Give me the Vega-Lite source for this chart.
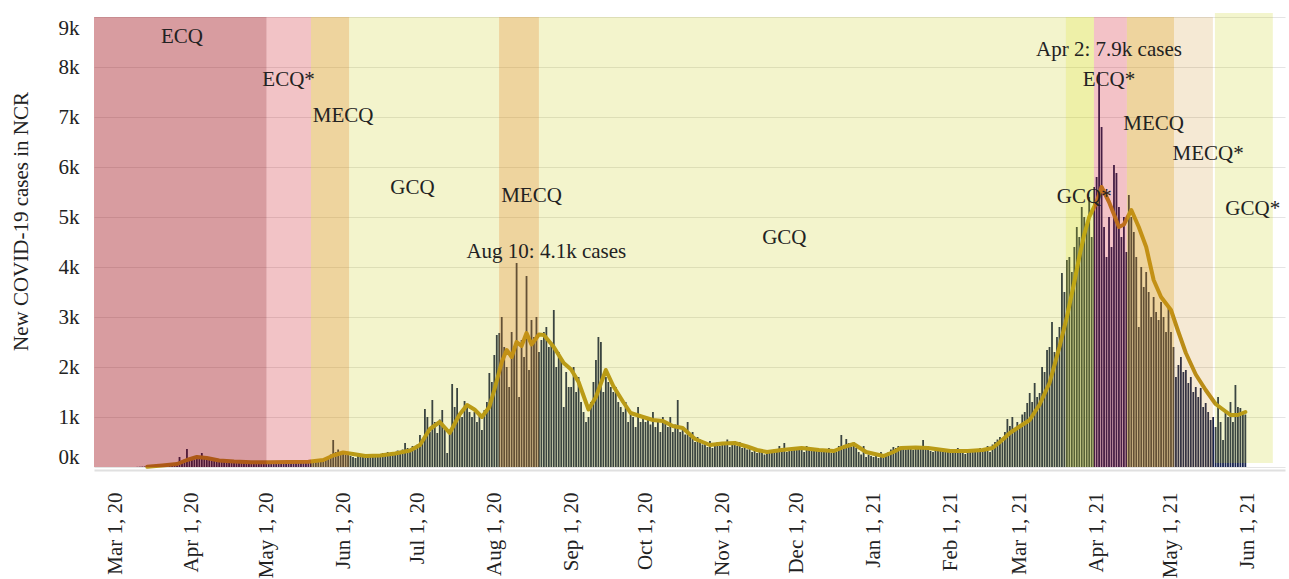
{
  "$schema": "https://vega.github.io/schema/vega-lite/v6.json",
  "width": 1191,
  "height": 450,
  "autosize": {"type": "none"},
  "padding": {"left": 94, "top": 17, "right": 4, "bottom": 112},
  "background": "white",
  "config": {"font": "Liberation Serif", "view": {"stroke": null}},
  "datasets": {
    "daily": [
      {"date":"2020-03-10","cases":3},{"date":"2020-03-11","cases":5},{"date":"2020-03-12","cases":8},{"date":"2020-03-13","cases":10},{"date":"2020-03-14","cases":12},{"date":"2020-03-15","cases":15},{"date":"2020-03-16","cases":20},{"date":"2020-03-17","cases":25},{"date":"2020-03-18","cases":30},{"date":"2020-03-19","cases":35},{"date":"2020-03-20","cases":40},{"date":"2020-03-21","cases":45},{"date":"2020-03-22","cases":50},{"date":"2020-03-23","cases":55},{"date":"2020-03-24","cases":60},{"date":"2020-03-25","cases":70},{"date":"2020-03-26","cases":80},{"date":"2020-03-27","cases":200},{"date":"2020-03-28","cases":90},{"date":"2020-03-29","cases":150},{"date":"2020-03-30","cases":360},{"date":"2020-03-31","cases":160},
      {"date":"2020-04-01","cases":180},{"date":"2020-04-02","cases":150},{"date":"2020-04-03","cases":230},{"date":"2020-04-04","cases":200},{"date":"2020-04-05","cases":280},{"date":"2020-04-06","cases":180},{"date":"2020-04-07","cases":140},{"date":"2020-04-08","cases":150},{"date":"2020-04-09","cases":120},{"date":"2020-04-10","cases":140},{"date":"2020-04-11","cases":110},{"date":"2020-04-12","cases":130},{"date":"2020-04-13","cases":110},{"date":"2020-04-14","cases":100},{"date":"2020-04-15","cases":130},{"date":"2020-04-16","cases":90},{"date":"2020-04-17","cases":110},{"date":"2020-04-18","cases":100},{"date":"2020-04-19","cases":120},{"date":"2020-04-20","cases":80},{"date":"2020-04-21","cases":100},{"date":"2020-04-22","cases":90},{"date":"2020-04-23","cases":110},{"date":"2020-04-24","cases":80},{"date":"2020-04-25","cases":90},{"date":"2020-04-26","cases":70},{"date":"2020-04-27","cases":100},{"date":"2020-04-28","cases":80},{"date":"2020-04-29","cases":90},{"date":"2020-04-30","cases":120},
      {"date":"2020-05-01","cases":90},{"date":"2020-05-02","cases":100},{"date":"2020-05-03","cases":80},{"date":"2020-05-04","cases":110},{"date":"2020-05-05","cases":90},{"date":"2020-05-06","cases":100},{"date":"2020-05-07","cases":80},{"date":"2020-05-08","cases":120},{"date":"2020-05-09","cases":90},{"date":"2020-05-10","cases":100},{"date":"2020-05-11","cases":80},{"date":"2020-05-12","cases":110},{"date":"2020-05-13","cases":100},{"date":"2020-05-14","cases":90},{"date":"2020-05-15","cases":110},{"date":"2020-05-16","cases":80},{"date":"2020-05-17","cases":100},{"date":"2020-05-18","cases":120},{"date":"2020-05-19","cases":90},{"date":"2020-05-20","cases":110},{"date":"2020-05-21","cases":100},{"date":"2020-05-22","cases":130},{"date":"2020-05-23","cases":120},{"date":"2020-05-24","cases":150},{"date":"2020-05-25","cases":180},{"date":"2020-05-26","cases":200},{"date":"2020-05-27","cases":250},{"date":"2020-05-28","cases":540},{"date":"2020-05-29","cases":300},{"date":"2020-05-30","cases":350},{"date":"2020-05-31","cases":280},
      {"date":"2020-06-01","cases":300},{"date":"2020-06-02","cases":250},{"date":"2020-06-03","cases":280},{"date":"2020-06-04","cases":220},{"date":"2020-06-05","cases":200},{"date":"2020-06-06","cases":180},{"date":"2020-06-07","cases":230},{"date":"2020-06-08","cases":200},{"date":"2020-06-09","cases":220},{"date":"2020-06-10","cases":240},{"date":"2020-06-11","cases":210},{"date":"2020-06-12","cases":250},{"date":"2020-06-13","cases":230},{"date":"2020-06-14","cases":200},{"date":"2020-06-15","cases":260},{"date":"2020-06-16","cases":240},{"date":"2020-06-17","cases":280},{"date":"2020-06-18","cases":250},{"date":"2020-06-19","cases":300},{"date":"2020-06-20","cases":270},{"date":"2020-06-21","cases":240},{"date":"2020-06-22","cases":300},{"date":"2020-06-23","cases":330},{"date":"2020-06-24","cases":280},{"date":"2020-06-25","cases":350},{"date":"2020-06-26","cases":480},{"date":"2020-06-27","cases":380},{"date":"2020-06-28","cases":300},{"date":"2020-06-29","cases":420},{"date":"2020-06-30","cases":350},
      {"date":"2020-07-01","cases":450},{"date":"2020-07-02","cases":640},{"date":"2020-07-03","cases":550},{"date":"2020-07-04","cases":1160},{"date":"2020-07-05","cases":1000},{"date":"2020-07-06","cases":700},{"date":"2020-07-07","cases":1340},{"date":"2020-07-08","cases":900},{"date":"2020-07-09","cases":680},{"date":"2020-07-10","cases":950},{"date":"2020-07-11","cases":1140},{"date":"2020-07-12","cases":800},{"date":"2020-07-13","cases":280},{"date":"2020-07-14","cases":700},{"date":"2020-07-15","cases":1660},{"date":"2020-07-16","cases":1200},{"date":"2020-07-17","cases":1580},{"date":"2020-07-18","cases":1080},{"date":"2020-07-19","cases":1000},{"date":"2020-07-20","cases":1320},{"date":"2020-07-21","cases":1200},{"date":"2020-07-22","cases":1100},{"date":"2020-07-23","cases":1000},{"date":"2020-07-24","cases":1100},{"date":"2020-07-25","cases":900},{"date":"2020-07-26","cases":1080},{"date":"2020-07-27","cases":740},{"date":"2020-07-28","cases":1140},{"date":"2020-07-29","cases":1300},{"date":"2020-07-30","cases":1880},{"date":"2020-07-31","cases":1700},
      {"date":"2020-08-01","cases":2240},{"date":"2020-08-02","cases":2640},{"date":"2020-08-03","cases":2680},{"date":"2020-08-04","cases":3000},{"date":"2020-08-05","cases":2400},{"date":"2020-08-06","cases":2000},{"date":"2020-08-07","cases":1600},{"date":"2020-08-08","cases":2700},{"date":"2020-08-09","cases":2300},{"date":"2020-08-10","cases":4080},{"date":"2020-08-11","cases":1400},{"date":"2020-08-12","cases":2540},{"date":"2020-08-13","cases":2200},{"date":"2020-08-14","cases":3820},{"date":"2020-08-15","cases":1940},{"date":"2020-08-16","cases":2940},{"date":"2020-08-17","cases":2600},{"date":"2020-08-18","cases":3000},{"date":"2020-08-19","cases":2300},{"date":"2020-08-20","cases":2540},{"date":"2020-08-21","cases":2700},{"date":"2020-08-22","cases":2800},{"date":"2020-08-23","cases":2400},{"date":"2020-08-24","cases":2500},{"date":"2020-08-25","cases":3140},{"date":"2020-08-26","cases":2000},{"date":"2020-08-27","cases":2300},{"date":"2020-08-28","cases":2140},{"date":"2020-08-29","cases":1200},{"date":"2020-08-30","cases":1900},{"date":"2020-08-31","cases":1600},
      {"date":"2020-09-01","cases":1600},{"date":"2020-09-02","cases":2000},{"date":"2020-09-03","cases":1500},{"date":"2020-09-04","cases":1800},{"date":"2020-09-05","cases":1300},{"date":"2020-09-06","cases":1100},{"date":"2020-09-07","cases":900},{"date":"2020-09-08","cases":1000},{"date":"2020-09-09","cases":1300},{"date":"2020-09-10","cases":1700},{"date":"2020-09-11","cases":2140},{"date":"2020-09-12","cases":2600},{"date":"2020-09-13","cases":2500},{"date":"2020-09-14","cases":1500},{"date":"2020-09-15","cases":1800},{"date":"2020-09-16","cases":1700},{"date":"2020-09-17","cases":1600},{"date":"2020-09-18","cases":1500},{"date":"2020-09-19","cases":1600},{"date":"2020-09-20","cases":1300},{"date":"2020-09-21","cases":1200},{"date":"2020-09-22","cases":1100},{"date":"2020-09-23","cases":1300},{"date":"2020-09-24","cases":900},{"date":"2020-09-25","cases":1100},{"date":"2020-09-26","cases":1000},{"date":"2020-09-27","cases":800},{"date":"2020-09-28","cases":1200},{"date":"2020-09-29","cases":900},{"date":"2020-09-30","cases":1000},
      {"date":"2020-10-01","cases":900},{"date":"2020-10-02","cases":1000},{"date":"2020-10-03","cases":850},{"date":"2020-10-04","cases":1100},{"date":"2020-10-05","cases":800},{"date":"2020-10-06","cases":950},{"date":"2020-10-07","cases":700},{"date":"2020-10-08","cases":1000},{"date":"2020-10-09","cases":900},{"date":"2020-10-10","cases":800},{"date":"2020-10-11","cases":1000},{"date":"2020-10-12","cases":700},{"date":"2020-10-13","cases":850},{"date":"2020-10-14","cases":1340},{"date":"2020-10-15","cases":700},{"date":"2020-10-16","cases":800},{"date":"2020-10-17","cases":650},{"date":"2020-10-18","cases":900},{"date":"2020-10-19","cases":600},{"date":"2020-10-20","cases":700},{"date":"2020-10-21","cases":500},{"date":"2020-10-22","cases":600},{"date":"2020-10-23","cases":550},{"date":"2020-10-24","cases":450},{"date":"2020-10-25","cases":500},{"date":"2020-10-26","cases":400},{"date":"2020-10-27","cases":520},{"date":"2020-10-28","cases":380},{"date":"2020-10-29","cases":450},{"date":"2020-10-30","cases":500},{"date":"2020-10-31","cases":420},
      {"date":"2020-11-01","cases":500},{"date":"2020-11-02","cases":450},{"date":"2020-11-03","cases":550},{"date":"2020-11-04","cases":400},{"date":"2020-11-05","cases":480},{"date":"2020-11-06","cases":520},{"date":"2020-11-07","cases":420},{"date":"2020-11-08","cases":500},{"date":"2020-11-09","cases":380},{"date":"2020-11-10","cases":430},{"date":"2020-11-11","cases":350},{"date":"2020-11-12","cases":400},{"date":"2020-11-13","cases":300},{"date":"2020-11-14","cases":320},{"date":"2020-11-15","cases":280},{"date":"2020-11-16","cases":350},{"date":"2020-11-17","cases":300},{"date":"2020-11-18","cases":250},{"date":"2020-11-19","cases":320},{"date":"2020-11-20","cases":300},{"date":"2020-11-21","cases":280},{"date":"2020-11-22","cases":350},{"date":"2020-11-23","cases":300},{"date":"2020-11-24","cases":420},{"date":"2020-11-25","cases":340},{"date":"2020-11-26","cases":480},{"date":"2020-11-27","cases":300},{"date":"2020-11-28","cases":350},{"date":"2020-11-29","cases":320},{"date":"2020-11-30","cases":400},
      {"date":"2020-12-01","cases":400},{"date":"2020-12-02","cases":350},{"date":"2020-12-03","cases":380},{"date":"2020-12-04","cases":300},{"date":"2020-12-05","cases":420},{"date":"2020-12-06","cases":360},{"date":"2020-12-07","cases":330},{"date":"2020-12-08","cases":350},{"date":"2020-12-09","cases":320},{"date":"2020-12-10","cases":300},{"date":"2020-12-11","cases":350},{"date":"2020-12-12","cases":320},{"date":"2020-12-13","cases":300},{"date":"2020-12-14","cases":380},{"date":"2020-12-15","cases":280},{"date":"2020-12-16","cases":320},{"date":"2020-12-17","cases":300},{"date":"2020-12-18","cases":420},{"date":"2020-12-19","cases":640},{"date":"2020-12-20","cases":380},{"date":"2020-12-21","cases":560},{"date":"2020-12-22","cases":480},{"date":"2020-12-23","cases":400},{"date":"2020-12-24","cases":500},{"date":"2020-12-25","cases":380},{"date":"2020-12-26","cases":300},{"date":"2020-12-27","cases":250},{"date":"2020-12-28","cases":420},{"date":"2020-12-29","cases":200},{"date":"2020-12-30","cases":250},{"date":"2020-12-31","cases":220},
      {"date":"2021-01-01","cases":200},{"date":"2021-01-02","cases":240},{"date":"2021-01-03","cases":180},{"date":"2021-01-04","cases":300},{"date":"2021-01-05","cases":220},{"date":"2021-01-06","cases":250},{"date":"2021-01-07","cases":300},{"date":"2021-01-08","cases":350},{"date":"2021-01-09","cases":400},{"date":"2021-01-10","cases":380},{"date":"2021-01-11","cases":420},{"date":"2021-01-12","cases":400},{"date":"2021-01-13","cases":380},{"date":"2021-01-14","cases":350},{"date":"2021-01-15","cases":420},{"date":"2021-01-16","cases":380},{"date":"2021-01-17","cases":340},{"date":"2021-01-18","cases":400},{"date":"2021-01-19","cases":360},{"date":"2021-01-20","cases":380},{"date":"2021-01-21","cases":540},{"date":"2021-01-22","cases":400},{"date":"2021-01-23","cases":350},{"date":"2021-01-24","cases":320},{"date":"2021-01-25","cases":300},{"date":"2021-01-26","cases":380},{"date":"2021-01-27","cases":350},{"date":"2021-01-28","cases":320},{"date":"2021-01-29","cases":300},{"date":"2021-01-30","cases":340},{"date":"2021-01-31","cases":300},
      {"date":"2021-02-01","cases":320},{"date":"2021-02-02","cases":300},{"date":"2021-02-03","cases":350},{"date":"2021-02-04","cases":380},{"date":"2021-02-05","cases":320},{"date":"2021-02-06","cases":300},{"date":"2021-02-07","cases":260},{"date":"2021-02-08","cases":340},{"date":"2021-02-09","cases":300},{"date":"2021-02-10","cases":320},{"date":"2021-02-11","cases":350},{"date":"2021-02-12","cases":300},{"date":"2021-02-13","cases":380},{"date":"2021-02-14","cases":340},{"date":"2021-02-15","cases":360},{"date":"2021-02-16","cases":420},{"date":"2021-02-17","cases":300},{"date":"2021-02-18","cases":450},{"date":"2021-02-19","cases":500},{"date":"2021-02-20","cases":550},{"date":"2021-02-21","cases":600},{"date":"2021-02-22","cases":500},{"date":"2021-02-23","cases":700},{"date":"2021-02-24","cases":960},{"date":"2021-02-25","cases":820},{"date":"2021-02-26","cases":1000},{"date":"2021-02-27","cases":780},{"date":"2021-02-28","cases":900},
      {"date":"2021-03-01","cases":800},{"date":"2021-03-02","cases":1050},{"date":"2021-03-03","cases":1100},{"date":"2021-03-04","cases":1280},{"date":"2021-03-05","cases":1480},{"date":"2021-03-06","cases":1300},{"date":"2021-03-07","cases":1680},{"date":"2021-03-08","cases":1400},{"date":"2021-03-09","cases":1480},{"date":"2021-03-10","cases":2000},{"date":"2021-03-11","cases":1900},{"date":"2021-03-12","cases":2340},{"date":"2021-03-13","cases":2400},{"date":"2021-03-14","cases":2900},{"date":"2021-03-15","cases":2300},{"date":"2021-03-16","cases":2600},{"date":"2021-03-17","cases":2800},{"date":"2021-03-18","cases":3880},{"date":"2021-03-19","cases":3500},{"date":"2021-03-20","cases":4140},{"date":"2021-03-21","cases":4200},{"date":"2021-03-22","cases":3900},{"date":"2021-03-23","cases":4400},{"date":"2021-03-24","cases":4800},{"date":"2021-03-25","cases":4600},{"date":"2021-03-26","cases":5200},{"date":"2021-03-27","cases":5000},{"date":"2021-03-28","cases":4800},{"date":"2021-03-29","cases":5400},{"date":"2021-03-30","cases":4600},{"date":"2021-03-31","cases":5600},
      {"date":"2021-04-01","cases":5800},{"date":"2021-04-02","cases":7900},{"date":"2021-04-03","cases":6800},{"date":"2021-04-04","cases":4800},{"date":"2021-04-05","cases":4200},{"date":"2021-04-06","cases":5000},{"date":"2021-04-07","cases":4400},{"date":"2021-04-08","cases":6040},{"date":"2021-04-09","cases":5880},{"date":"2021-04-10","cases":5200},{"date":"2021-04-11","cases":4600},{"date":"2021-04-12","cases":5000},{"date":"2021-04-13","cases":4300},{"date":"2021-04-14","cases":5440},{"date":"2021-04-15","cases":5000},{"date":"2021-04-16","cases":4700},{"date":"2021-04-17","cases":4200},{"date":"2021-04-18","cases":2800},{"date":"2021-04-19","cases":4000},{"date":"2021-04-20","cases":3600},{"date":"2021-04-21","cases":3900},{"date":"2021-04-22","cases":3500},{"date":"2021-04-23","cases":3000},{"date":"2021-04-24","cases":3400},{"date":"2021-04-25","cases":3100},{"date":"2021-04-26","cases":2940},{"date":"2021-04-27","cases":3300},{"date":"2021-04-28","cases":3000},{"date":"2021-04-29","cases":2700},{"date":"2021-04-30","cases":3180},
      {"date":"2021-05-01","cases":2700},{"date":"2021-05-02","cases":2400},{"date":"2021-05-03","cases":1800},{"date":"2021-05-04","cases":2040},{"date":"2021-05-05","cases":2200},{"date":"2021-05-06","cases":1900},{"date":"2021-05-07","cases":1940},{"date":"2021-05-08","cases":1680},{"date":"2021-05-09","cases":1800},{"date":"2021-05-10","cases":1500},{"date":"2021-05-11","cases":1600},{"date":"2021-05-12","cases":1400},{"date":"2021-05-13","cases":1580},{"date":"2021-05-14","cases":1200},{"date":"2021-05-15","cases":1280},{"date":"2021-05-16","cases":1100},{"date":"2021-05-17","cases":940},{"date":"2021-05-18","cases":1000},{"date":"2021-05-19","cases":800},{"date":"2021-05-20","cases":1400},{"date":"2021-05-21","cases":900},{"date":"2021-05-22","cases":540},{"date":"2021-05-23","cases":1100},{"date":"2021-05-24","cases":1000},{"date":"2021-05-25","cases":1300},{"date":"2021-05-26","cases":900},{"date":"2021-05-27","cases":1640},{"date":"2021-05-28","cases":1200},{"date":"2021-05-29","cases":1180},{"date":"2021-05-30","cases":1100},{"date":"2021-05-31","cases":1050}
    ],
    "avg": [
      {"date":"2020-03-14","avg":5},{"date":"2020-03-20","avg":30},{"date":"2020-03-26","avg":60},{"date":"2020-03-30","avg":140},{"date":"2020-04-03","avg":200},{"date":"2020-04-07","avg":180},{"date":"2020-04-12","avg":130},{"date":"2020-04-18","avg":110},{"date":"2020-04-25","avg":95},{"date":"2020-05-02","avg":95},{"date":"2020-05-10","avg":100},{"date":"2020-05-18","avg":105},{"date":"2020-05-24","avg":140},{"date":"2020-05-28","avg":230},{"date":"2020-06-01","avg":290},{"date":"2020-06-05","avg":260},{"date":"2020-06-10","avg":220},{"date":"2020-06-16","avg":230},{"date":"2020-06-22","avg":270},{"date":"2020-06-28","avg":330},{"date":"2020-07-02","avg":440},{"date":"2020-07-06","avg":760},{"date":"2020-07-10","avg":900},{"date":"2020-07-14","avg":680},{"date":"2020-07-18","avg":1050},{"date":"2020-07-21","avg":1240},{"date":"2020-07-24","avg":1150},{"date":"2020-07-27","avg":1000},{"date":"2020-07-30","avg":1200},{"date":"2020-08-01","avg":1540},{"date":"2020-08-04","avg":2100},{"date":"2020-08-06","avg":2340},{"date":"2020-08-08","avg":2200},{"date":"2020-08-10","avg":2500},{"date":"2020-08-12","avg":2420},{"date":"2020-08-14","avg":2680},{"date":"2020-08-16","avg":2450},{"date":"2020-08-19","avg":2650},{"date":"2020-08-21","avg":2640},{"date":"2020-08-25","avg":2400},{"date":"2020-08-29","avg":2080},{"date":"2020-09-01","avg":1950},{"date":"2020-09-04","avg":1700},{"date":"2020-09-08","avg":1150},{"date":"2020-09-11","avg":1400},{"date":"2020-09-15","avg":1940},{"date":"2020-09-18","avg":1620},{"date":"2020-09-22","avg":1300},{"date":"2020-09-25","avg":1080},{"date":"2020-09-30","avg":1000},{"date":"2020-10-04","avg":940},{"date":"2020-10-08","avg":920},{"date":"2020-10-12","avg":820},{"date":"2020-10-16","avg":780},{"date":"2020-10-21","avg":560},{"date":"2020-10-27","avg":440},{"date":"2020-11-01","avg":470},{"date":"2020-11-06","avg":480},{"date":"2020-11-11","avg":410},{"date":"2020-11-15","avg":340},{"date":"2020-11-19","avg":300},{"date":"2020-11-25","avg":340},{"date":"2020-12-03","avg":380},{"date":"2020-12-10","avg":340},{"date":"2020-12-16","avg":320},{"date":"2020-12-20","avg":400},{"date":"2020-12-24","avg":460},{"date":"2020-12-29","avg":300},{"date":"2021-01-05","avg":220},{"date":"2021-01-09","avg":300},{"date":"2021-01-12","avg":380},{"date":"2021-01-18","avg":390},{"date":"2021-01-23","avg":380},{"date":"2021-02-01","avg":320},{"date":"2021-02-08","avg":320},{"date":"2021-02-14","avg":340},{"date":"2021-02-18","avg":380},{"date":"2021-02-21","avg":500},{"date":"2021-02-25","avg":680},{"date":"2021-02-28","avg":780},{"date":"2021-03-05","avg":940},{"date":"2021-03-09","avg":1250},{"date":"2021-03-13","avg":1680},{"date":"2021-03-17","avg":2400},{"date":"2021-03-20","avg":3000},{"date":"2021-03-23","avg":3700},{"date":"2021-03-25","avg":4200},{"date":"2021-03-27","avg":4650},{"date":"2021-03-29","avg":5000},{"date":"2021-04-01","avg":5300},{"date":"2021-04-03","avg":5600},{"date":"2021-04-06","avg":5300},{"date":"2021-04-08","avg":5050},{"date":"2021-04-10","avg":4800},{"date":"2021-04-12","avg":4850},{"date":"2021-04-15","avg":5140},{"date":"2021-04-18","avg":4800},{"date":"2021-04-21","avg":4400},{"date":"2021-04-24","avg":3740},{"date":"2021-04-27","avg":3400},{"date":"2021-05-01","avg":3140},{"date":"2021-05-04","avg":2700},{"date":"2021-05-07","avg":2280},{"date":"2021-05-11","avg":1850},{"date":"2021-05-15","avg":1540},{"date":"2021-05-19","avg":1260},{"date":"2021-05-22","avg":1150},{"date":"2021-05-25","avg":1040},{"date":"2021-05-28","avg":1040},{"date":"2021-05-31","avg":1100}
    ],
    "phases": [
      {"id":"p1","phase":"ECQ","start":"2020-02-21T12:00:00Z","end":"2020-05-01T03:00:00Z","top":9000,"bottom":0},
      {"id":"p2","phase":"ECQ*","start":"2020-05-01T03:00:00Z","end":"2020-05-19T01:00:00Z","top":9000,"bottom":0},
      {"id":"p3","phase":"MECQ","start":"2020-05-19T01:00:00Z","end":"2020-06-03T10:00:00Z","top":9000,"bottom":0},
      {"id":"p4","phase":"GCQ","start":"2020-06-03T10:00:00Z","end":"2020-08-02T22:00:00Z","top":9000,"bottom":0},
      {"id":"p5","phase":"MECQ","start":"2020-08-02T22:00:00Z","end":"2020-08-19T00:00:00Z","top":9000,"bottom":0},
      {"id":"p6","phase":"GCQ","start":"2020-08-19T00:00:00Z","end":"2021-03-19T14:00:00Z","top":9000,"bottom":0},
      {"id":"p7","phase":"GCQ*","start":"2021-03-19T14:00:00Z","end":"2021-03-30T22:00:00Z","top":9000,"bottom":0},
      {"id":"p8","phase":"ECQ*","start":"2021-03-30T22:00:00Z","end":"2021-04-13T05:00:00Z","top":9000,"bottom":0},
      {"id":"p9","phase":"MECQ","start":"2021-04-13T05:00:00Z","end":"2021-05-02T05:00:00Z","top":9000,"bottom":0},
      {"id":"p10","phase":"MECQ*","start":"2021-05-02T05:00:00Z","end":"2021-05-17T22:00:00Z","top":9000,"bottom":0},
      {"id":"p11","phase":"GCQ*","start":"2021-05-18T17:00:00Z","end":"2021-06-11T02:00:00Z","top":9080,"bottom":80}
    ],
    "notes": [
      {"date":"2020-03-28","y":8600,"label":"ECQ"},
      {"date":"2020-05-10","y":7740,"label":"ECQ*"},
      {"date":"2020-06-01","y":7020,"label":"MECQ"},
      {"date":"2020-06-29","y":5580,"label":"GCQ"},
      {"date":"2020-08-16","y":5420,"label":"MECQ"},
      {"date":"2020-11-26","y":4580,"label":"GCQ"},
      {"date":"2021-03-27","y":5400,"label":"GCQ*"},
      {"date":"2021-04-06","y":7740,"label":"ECQ*"},
      {"date":"2021-04-24","y":6860,"label":"MECQ"},
      {"date":"2021-05-16","y":6260,"label":"MECQ*"},
      {"date":"2021-06-03","y":5160,"label":"GCQ*"},
      {"date":"2021-04-06","y":8340,"label":"Apr 2: 7.9k cases"},
      {"date":"2020-08-22","y":4300,"label":"Aug 10: 4.1k cases"}
    ]
  },
  "layer": [
    {
      "data": {"name": "daily"},
      "mark": {"type": "bar", "size": 1.8, "color": "#182450"},
      "encoding": {
        "x": {
          "field": "date", "type": "temporal",
          "scale": {"type": "utc", "padding": 0, "domain": [{"year": 2020, "month": 2, "date": 21, "hours": 12, "utc": true}, {"year": 2021, "month": 6, "date": 16, "utc": true}]},
          "axis": {
            "title": null, "format": "%b %-d, %y", "labelAngle": -90, "labelFontSize": 21, "labelColor": "#222",
            "labelFont": "Liberation Serif", "tickCount": {"interval": "month", "step": 1}, "ticks": false, "grid": false,
            "domainColor": "#e0e0e0", "domainWidth": 2, "offset": 3, "labelPadding": 22, "labelOverlap": false
          }
        },
        "y": {
          "field": "cases", "type": "quantitative",
          "scale": {"domain": [0, 9000], "nice": false},
          "axis": {
            "title": "New COVID-19 cases in NCR", "titleFontSize": 21, "titleFontWeight": "normal", "titleColor": "#222",
            "titleFont": "Liberation Serif", "titlePadding": 27, "titleY": 204,
            "labelFontSize": 21, "labelColor": "#222", "labelFont": "Liberation Serif",
            "labelExpr": "datum.value / 1000 + 'k'",
            "values": [0, 1000, 2000, 3000, 4000, 5000, 6000, 7000, 8000, 9000],
            "ticks": false, "domain": false, "labelPadding": 15, "labelFlush": true,
            "grid": true, "gridColor": "#e4e4e4", "gridWidth": 1
          }
        }
      }
    },
    {
      "data": {"name": "avg"},
      "mark": {"type": "line", "color": "#b8901c", "strokeWidth": 4, "strokeJoin": "round", "strokeCap": "round"},
      "encoding": {
        "x": {"field": "date", "type": "temporal", "scale": {"type": "utc", "padding": 0, "domain": [{"year": 2020, "month": 2, "date": 21, "hours": 12, "utc": true}, {"year": 2021, "month": 6, "date": 16, "utc": true}]}},
        "y": {"field": "avg", "type": "quantitative", "scale": {"domain": [0, 9000], "nice": false}}
      }
    },
    {
      "data": {"name": "phases"},
      "mark": {"type": "rect"},
      "encoding": {
        "x": {"field": "start", "type": "temporal", "scale": {"type": "utc", "padding": 0, "domain": [{"year": 2020, "month": 2, "date": 21, "hours": 12, "utc": true}, {"year": 2021, "month": 6, "date": 16, "utc": true}]}},
        "x2": {"field": "end"},
        "y": {"field": "top", "type": "quantitative", "scale": {"domain": [0, 9000], "nice": false}},
        "y2": {"field": "bottom"},
        "color": {
          "field": "id", "type": "nominal", "legend": null,
          "scale": {
            "domain": ["p1","p2","p3","p4","p5","p6","p7","p8","p9","p10","p11"],
            "range": ["rgba(157,8,18,0.4)","rgba(203,15,27,0.25)","rgba(212,147,12,0.4)","rgba(195,200,0,0.2)","rgba(212,147,12,0.4)","rgba(195,200,0,0.2)","rgba(206,212,7,0.35)","rgba(207,11,31,0.25)","rgba(212,147,12,0.4)","rgba(196,125,2,0.17)","rgba(195,205,5,0.2)"]
          }
        }
      }
    },
    {
      "data": {"name": "notes"},
      "mark": {"type": "text", "fontSize": 21, "color": "#222", "font": "Liberation Serif"},
      "encoding": {
        "x": {"field": "date", "type": "temporal", "scale": {"type": "utc", "padding": 0, "domain": [{"year": 2020, "month": 2, "date": 21, "hours": 12, "utc": true}, {"year": 2021, "month": 6, "date": 16, "utc": true}]}},
        "y": {"field": "y", "type": "quantitative", "scale": {"domain": [0, 9000], "nice": false}},
        "text": {"field": "label"}
      }
    }
  ]
}
